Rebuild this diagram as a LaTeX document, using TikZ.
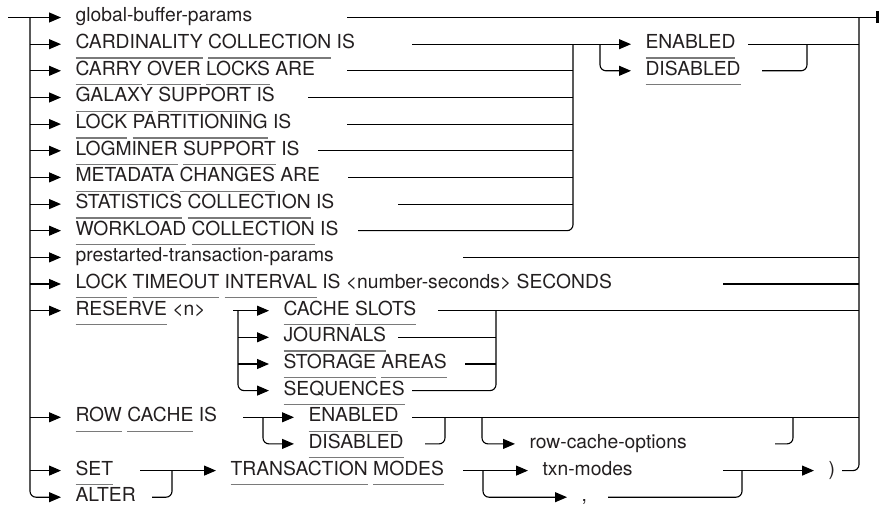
\documentclass[tikz,border=0pt]{standalone}
\usepackage{fontspec}
\setmainfont{TeX Gyre Heros}
\usetikzlibrary{arrows.meta}

\definecolor{ink}{HTML}{231F20}
\definecolor{ulgray}{HTML}{7A7A7A}

% keyword with its grey underline
\newsavebox\kwbox
\newcommand\kw[1]{\sbox\kwbox{#1}\rlap{\color{ulgray}\rule[-10pt]{\wd\kwbox}{1.3pt}}\usebox\kwbox}

\begin{document}
\begin{tikzpicture}[x=1pt, y=-1pt, line width=1.1pt, rounded corners=6pt,
  >={Triangle[length=12pt,width=10pt]},
  every node/.style={font=\fontsize{19.3}{21}\selectfont, text=ink},
  item/.style={anchor=west, inner xsep=14pt, inner ysep=0pt, text height=9pt, text depth=0pt}]
  \useasboundingbox (0,0) rectangle (881,510);

  % main column
  \node[item] (gbp)      at (61,17.5)  {global-buffer-params};
  \node[item] (card)     at (61,44.2)  {\kw{CARDINALITY} \kw{COLLECTION} IS};
  \node[item] (carry)    at (61,70.8)  {\kw{CARRY} \kw{OVER} \kw{LOCKS} ARE};
  \node[item] (galaxy)   at (61,97.5)  {\kw{GALAXY} \kw{SUPPORT} IS};
  \node[item] (lockpart) at (61,124.1) {\kw{LOCK} \kw{PARTITIONING} IS};
  \node[item] (logminer) at (61,150.8) {\kw{LOGMINER} \kw{SUPPORT} IS};
  \node[item] (metadata) at (61,177.4) {\kw{METADATA} \kw{CHANGES} ARE};
  \node[item] (stats)    at (61,204.1) {\kw{STATISTICS} \kw{COLLECTION} IS};
  \node[item] (workload) at (61,230.7) {\kw{WORKLOAD} \kw{COLLECTION} IS};
  \node[item] (prestart) at (61,257.4) {prestarted-transaction-params};
  \node[item] (timeout)  at (61,284)   {\kw{LOCK} \kw{TIMEOUT} \kw{INTERVAL} IS <number-seconds> SECONDS};
  \node[item] (reserve)  at (61,310.7) {\kw{RESERVE} <n>};
  \node[item] (rowcache) at (61,417.3) {\kw{ROW} \kw{CACHE} IS};
  \node[item] (set)      at (61,470.6) {\kw{SET}};
  \node[item] (alter)    at (61,497.2) {\kw{ALTER}};

  % choices
  \node[item] (enA)      at (631,44.2)  {\kw{ENABLED}};
  \node[item] (disA)     at (631,70.8)  {\kw{DISABLED}};
  \node[item] (slots)    at (269,310.7) {\kw{CACHE} \kw{SLOTS}};
  \node[item] (journals) at (269,337.3) {\kw{JOURNALS}};
  \node[item] (storage)  at (269,364)   {\kw{STORAGE} \kw{AREAS}};
  \node[item] (seq)      at (269,390.6) {\kw{SEQUENCES}};
  \node[item] (enB)      at (294,417.3) {\kw{ENABLED}};
  \node[item] (disB)     at (294,443.9) {\kw{DISABLED}};
  \node[item] (rcopts)   at (515,443.9) {row-cache-options};
  \node[item] (txn)      at (216,470.6) {\kw{TRANSACTION} \kw{MODES}};
  \node[item] (modes)    at (528,470.6) {txn-modes};
  \node[item] (comma)    at (567,497.2) {,};
  \node[item] (paren)    at (814,470.6) {)};

  % rails and junctions
  \coordinate (in)  at (8,17.5);
  \coordinate (out) at (879,17.5);
  \coordinate (L)  at (30,0);
  \coordinate (R)  at (859,0);
  \coordinate (jA) at (573,0);
  \coordinate (bA) at (600,0);
  \coordinate (mA) at (807,0);
  \coordinate (bR) at (238,0);
  \coordinate (mR) at (496,0);
  \coordinate (bC) at (263,0);
  \coordinate (mC) at (445,0);
  \coordinate (bO) at (482,0);
  \coordinate (mO) at (793,0);
  \coordinate (mS) at (172,0);
  \coordinate (bT) at (483,0);
  \coordinate (mT) at (742,0);

  % where each outgoing line starts
  \foreach \n/\x in {gbp/347, card/412, carry/347, galaxy/308, lockpart/347,
      logminer/318, metadata/348, stats/398, workload/358, prestart/463,
      timeout/723, reserve/233, slots/438, journals/398, storage/465, seq/412,
      rowcache/243, enB/412, disB/425, rcopts/775, set/140, alter/152,
      txn/463, modes/723, comma/608, paren/842, enA/748, disA/762}
    \path (\x,0) coordinate (xe) (xe |- \n.west) coordinate (\n-e);

  % left rail
  \draw[->] (in) -- (gbp.west);
  \draw[->] (L |- gbp.west) -- (L |- alter.west) -- (alter.west);
  \foreach \n in {card,carry,galaxy,lockpart,logminer,metadata,stats,
      workload,prestart,timeout,reserve,rowcache,set}
    \draw[->] (L |- \n.west) -- (\n.west);

  % right rail
  \draw[-{Rectangle[length=2.6pt,width=12pt]}] (gbp-e) -- (out);
  \draw (paren-e) -- (R |- paren.west) -- (R |- gbp.west);
  \foreach \n in {enA,prestart,timeout,slots,enB}
    \draw (\n-e) -- (R |- \n.west);

  % ENABLED / DISABLED
  \draw[->] (card-e) -- (enA.west);
  \draw[->] (bA |- card.west) -- (bA |- disA.west) -- (disA.west);
  \foreach \n in {carry,galaxy,lockpart,logminer,metadata,stats}
    \draw (\n-e) -- (jA |- \n.west);
  \draw (workload-e) -- (jA |- workload.west) -- (jA |- card.west);
  \draw (disA-e) -- (mA |- disA.west) -- (mA |- enA.west);

  % RESERVE
  \draw[->] (reserve-e) -- (slots.west);
  \draw[->] (bR |- slots.west) -- (bR |- seq.west) -- (seq.west);
  \foreach \n in {journals,storage} {
    \draw[->] (bR |- \n.west) -- (\n.west);
    \draw (\n-e) -- (mR |- \n.west);
  }
  \draw (seq-e) -- (mR |- seq.west) -- (mR |- slots.west);

  % ROW CACHE
  \draw[->] (rowcache-e) -- (enB.west);
  \draw[->] (bC |- enB.west) -- (bC |- disB.west) -- (disB.west);
  \draw (disB-e) -- (mC |- disB.west) -- (mC |- enB.west);
  \draw[->] (bO |- enB.west) -- (bO |- rcopts.west) -- (rcopts.west);
  \draw (rcopts-e) -- (mO |- rcopts.west) -- (mO |- enB.west);

  % SET / ALTER TRANSACTION MODES
  \draw[->] (set-e) -- (txn.west);
  \draw (alter-e) -- (mS |- alter.west) -- (mS |- set.west);
  \draw[->] (txn-e) -- (modes.west);
  \draw[->] (bT |- modes.west) -- (bT |- comma.west) -- (comma.west);
  \draw[->] (modes-e) -- (paren.west);
  \draw (comma-e) -- (mT |- comma.west) -- (mT |- modes.west);
\end{tikzpicture}
\end{document}
